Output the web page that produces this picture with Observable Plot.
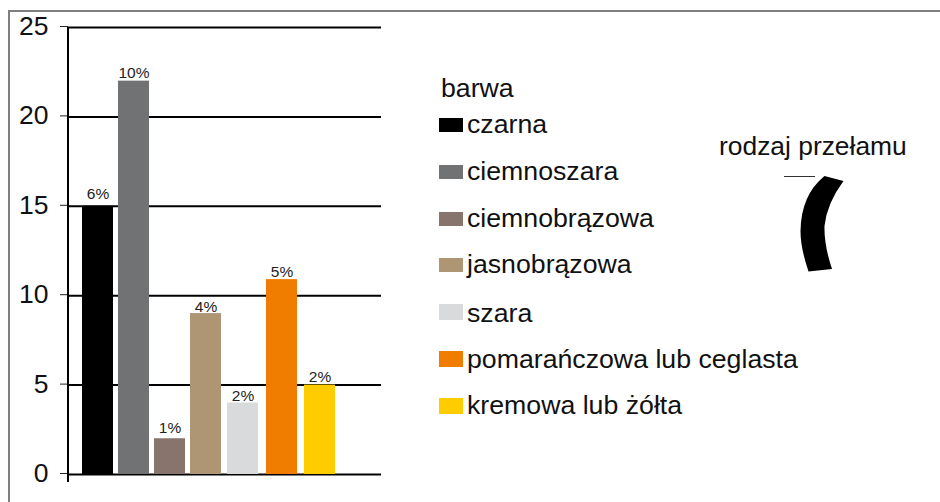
<!DOCTYPE html>
<html><head><meta charset="utf-8">
<script src="https://cdn.jsdelivr.net/npm/d3@7"></script>
<script src="https://cdn.jsdelivr.net/npm/@observablehq/plot@0.6"></script>
<style>
html,body{margin:0;padding:0;background:#fff;overflow:hidden}
#wrap{position:relative;width:940px;height:502px;font-family:"Liberation Sans",Arial,sans-serif;color:#111}
#wrap svg{position:absolute;left:0;top:0;font-family:"Liberation Sans",Arial,sans-serif}
#frame{position:absolute;left:8px;top:10px;right:0;bottom:0;border-left:2px solid #7f7f7f;border-top:2px solid #7f7f7f}
.t{position:absolute;font-size:26.7px;line-height:30px;white-space:nowrap}
.s{position:absolute;left:439px;width:24px}
</style></head><body>
<div id="wrap"><div id="frame"></div></div>
<script>
const categories = ["czarna","ciemnoszara","ciemnobrązowa","jasnobrązowa","szara","pomarańczowa lub ceglasta","kremowa lub żółta"];
const values = [15,22,2,9,4,10.9,5];
const shares = ["6%","10%","1%","4%","2%","5%","2%"];
const colors = ["#000000","#717274","#87756d","#ae9675","#d9dadc","#f07d00","#ffcc00"];
const yTicks = [0,5,10,15,20,25];
const legendTitle = "barwa";
const sideTitle = "rodzaj przełamu";

const rows = categories.map((c,i)=>({c,v:values[i],s:shares[i]}));
const barNudge = [0,-1,-2,-3,-3,-1,0];
const labelGap = [12,8,11,7,7,8,8];
const wrap = document.getElementById("wrap");

const axisLine = (index,scales,channels,dims)=>{
  const l = d3.create("svg:line")
    .attr("x1",dims.marginLeft).attr("x2",dims.marginLeft)
    .attr("y1",scales.y(25)).attr("y2",scales.y(0)+8)
    .attr("stroke","#000").attr("stroke-width",2);
  return l.node();
};

const chart = Plot.plot({
  width:940,height:502,
  marginLeft:68,marginRight:559,marginTop:27,marginBottom:28,
  style:{background:"transparent",overflow:"visible"},
  x:{axis:null,domain:categories,range:[81.5,336],paddingInner:0.168,paddingOuter:0},
  y:{axis:null,domain:[0,25]},
  color:{domain:categories,range:colors},
  marks:[
    Plot.ruleY(yTicks,{stroke:"#000",strokeWidth:2}),
    Plot.axisY({ticks:yTicks,tickSize:8,tickPadding:12,fontSize:26.5,label:null,stroke:"#222",fill:"#111",tickFormat:d=>d,dy:-1}),
    axisLine,
    ...rows.map((r,i)=>Plot.barY([r],{x:"c",y:"v",fill:"c",dx:barNudge[i]})),
    ...rows.map((r,i)=>Plot.text([r],{x:"c",y:"v",text:"s",dx:barNudge[i],dy:-labelGap[i],fontSize:15.5,fill:"#222"}))
  ]
});
wrap.appendChild(chart);

function addText(txt,x,cy,size){
  const d=document.createElement("div");d.className="t";d.textContent=txt;
  if(size)d.style.fontSize=size+"px";
  d.style.left=x+"px";d.style.top=(cy-15)+"px";wrap.appendChild(d);
}
const textNudge=[0,0,0,0,2,1,0];
addText(legendTitle,441,88);
categories.forEach((c,i)=>{
  const cy=125+46.8*i, h=i<4?14:16;
  const s=document.createElement("div");s.className="s";
  s.style.top=(cy-h/2)+"px";s.style.height=h+"px";s.style.background=colors[i];wrap.appendChild(s);
  addText(c,467,cy-1+textNudge[i]);
});
addText(sideTitle,719,146,26.4);

const deco=d3.select(wrap).append("svg").attr("width",940).attr("height",502).style("pointer-events","none");
deco.append("line").attr("x1",784).attr("x2",815).attr("y1",176.5).attr("y2",176.5).attr("stroke","#333").attr("stroke-width",1);
deco.append("path").attr("fill","#000")
  .attr("d","M824.5 176 L843.5 181 Q827 203 824.5 226 Q824 245 832 269 L808.5 271.5 Q800.5 248 800.5 231 Q801 195 824.5 176 Z");
</script>
</body></html>
